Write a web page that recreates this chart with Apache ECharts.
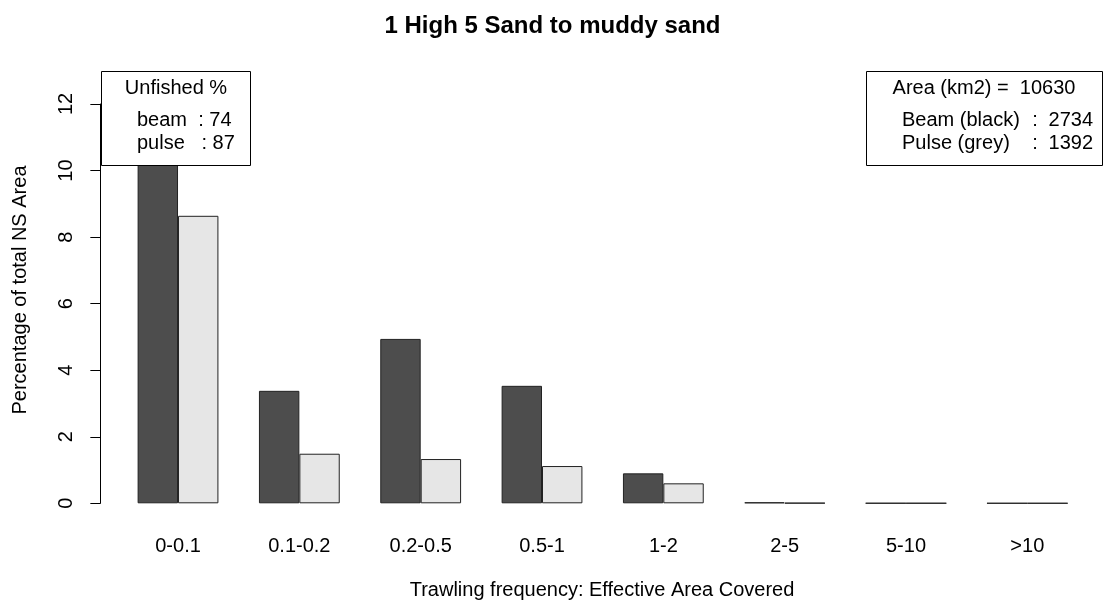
<!DOCTYPE html>
<html>
<head>
<meta charset="utf-8">
<script src="https://cdn.jsdelivr.net/npm/echarts@6/dist/echarts.min.js"></script>
<style>html,body{margin:0;padding:0;background:#fff;}#c{width:1105px;height:603px;}</style>
</head>
<body>
<div id="c"></div>
<script>
const categories = ['0-0.1', '0.1-0.2', '0.2-0.5', '0.5-1', '1-2', '2-5', '5-10', '>10'];
const beamValues = [12.5, 3.38, 4.94, 3.53, 0.90, 0.03, 0.004, 0.003];
const pulseValues = [8.64, 1.49, 1.33, 1.12, 0.60, 0.01, 0.004, 0.003];
const yTicks = [0, 2, 4, 6, 8, 10, 12];
const titleText = '1 High 5 Sand to muddy sand';
const xTitle = 'Trawling frequency: Effective Area Covered';
const yTitle = 'Percentage of total NS Area';
const unfishedTitle = 'Unfished %';
const unfishedRows = ['beam  : 74', 'pulse   : 87'];
const areaTitle = 'Area (km2) =  10630';
const areaLabels = ['Beam (black)', 'Pulse (grey)'];
const areaNumbers = ['2734', '1392'];

const FONT = '"Liberation Sans", Arial, sans-serif';
const chart = echarts.init(document.getElementById('c'), null, {renderer: 'canvas'});
const txt = (x, y, s, align, extra) => Object.assign({
  type: 'text', x: x, y: y, z: 101,
  style: {text: s, fill: '#000', font: '20px ' + FONT, textAlign: align || 'left', textVerticalAlign: 'middle'}
}, extra || {});

chart.setOption({
  animation: false,
  backgroundColor: '#fff',
  title: {
    text: titleText, left: 'center', top: 9,
    textStyle: {fontFamily: FONT, fontSize: 24, fontWeight: 'bold', color: '#000'}
  },
  grid: {left: 117.35, right: 17, top: 104, bottom: 99.7, outerBoundsMode: 'none', containLabel: false},
  xAxis: {
    type: 'category', data: categories,
    axisLine: {show: false}, axisTick: {show: false},
    axisLabel: {fontFamily: FONT, fontSize: 20, color: '#000', margin: 33, interval: 0}
  },
  yAxis: {
    type: 'value', min: yTicks[0], max: yTicks[yTicks.length - 1], interval: 2, offset: 17,
    splitLine: {show: false},
    axisLine: {show: true, lineStyle: {color: '#000', width: 1}},
    axisTick: {show: true, length: 10, lineStyle: {color: '#000'}},
    axisLabel: {fontFamily: FONT, fontSize: 20, color: '#000', rotate: 90, margin: 24}
  },
  series: [
    {type: 'bar', name: 'beam', data: beamValues, barWidth: 40.4, barGap: '0%', clip: true,
     itemStyle: {color: '#4d4d4d', borderColor: '#222', borderWidth: 1}},
    {type: 'bar', name: 'pulse', data: pulseValues, barWidth: 40.4, barGap: '0%', clip: true,
     itemStyle: {color: '#e6e6e6', borderColor: '#222', borderWidth: 1}}
  ],
  graphic: [
    {type: 'rect', z: 100, shape: {x: 101.5, y: 71.5, width: 149, height: 94},
     style: {fill: '#fff', stroke: '#000', lineWidth: 1}},
    txt(176, 88, unfishedTitle, 'center'),
    txt(137, 120, unfishedRows[0]),
    txt(137, 143, unfishedRows[1]),
    {type: 'rect', z: 100, shape: {x: 866.5, y: 71.5, width: 236, height: 94},
     style: {fill: '#fff', stroke: '#000', lineWidth: 1}},
    txt(984, 88, areaTitle, 'center'),
    txt(902, 120, areaLabels[0]),
    txt(1035, 120, ':', 'center'),
    txt(1093, 120, areaNumbers[0], 'right'),
    txt(902, 143, areaLabels[1]),
    txt(1035, 143, ':', 'center'),
    txt(1093, 143, areaNumbers[1], 'right'),
    txt(602, 590, xTitle, 'center'),
    txt(20, 290, yTitle, 'center', {rotation: Math.PI / 2})
  ]
});
</script>
</body>
</html>
